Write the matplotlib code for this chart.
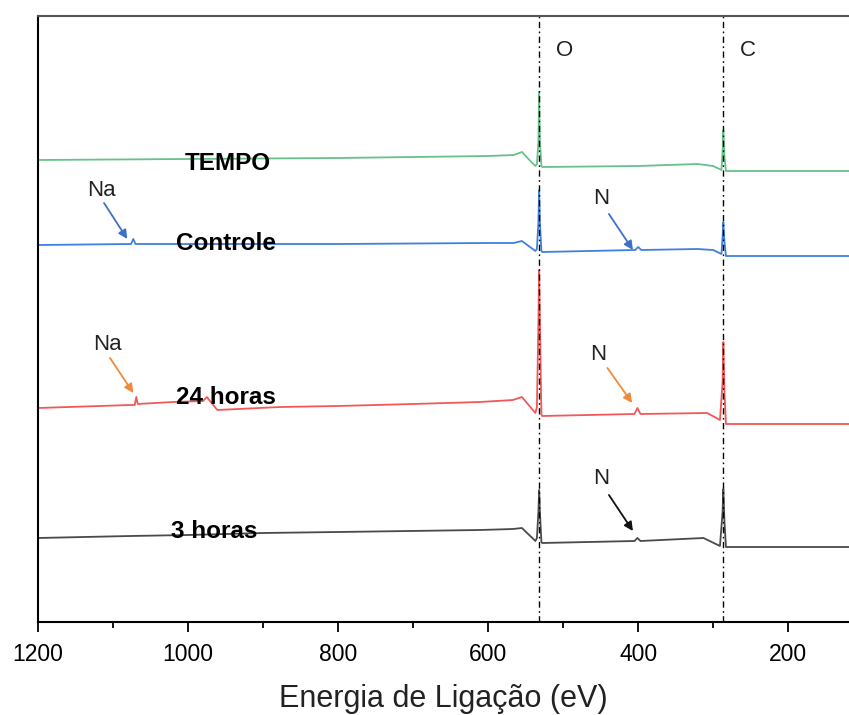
import matplotlib.pyplot as plt

# XPS survey spectra (stacked, arbitrary units)
plt.rcParams['font.family'] = ['Liberation Sans', 'DejaVu Sans']

# binding energies (eV) and stacked intensities
tempo_e = [1200, 1000, 800, 600, 566, 555, 545, 537, 535, 533, 532, 531, 529, 528,
           400, 321, 300, 289, 287.5, 286.5, 285, 283, 119]
tempo_i = [462, 463, 464, 466, 467, 470, 462, 456, 458, 480, 530, 480, 456, 455,
           456, 458, 456, 452, 470, 492, 465, 451, 451]

controle_e = [1200, 1076, 1073, 1070, 1000, 800, 600, 566, 555, 537, 535, 533, 532, 531,
              529, 528, 404, 400, 396, 321, 300, 289, 287.5, 286.5, 285, 283, 119]
controle_i = [377, 378, 383, 378, 378, 378, 379, 379, 381, 371, 373, 400, 432, 400,
              371, 370, 372, 375, 372, 373, 372, 368, 385, 400, 380, 366, 366]

h24_e = [1200, 1077, 1071, 1069, 1067, 1020, 980, 975, 961, 877, 800, 700, 611, 567,
         555, 537, 535, 533, 532, 531, 529, 528, 405, 401, 397, 308, 291, 287.5, 286.5,
         285, 283, 119]
h24_i = [214, 217, 217, 225, 218, 220, 221, 225, 212, 215, 216, 218, 220, 222,
         225, 209, 215, 300, 352, 300, 208, 206, 208, 214, 208, 209, 202, 240, 280,
         230, 198, 198]

h3_e = [1200, 1077, 1000, 900, 800, 611, 567, 555, 537, 535, 533, 532, 531, 529, 528,
        405, 401, 397, 313, 291, 287.5, 286.5, 285, 283, 119]
h3_i = [84, 86, 87, 89, 90, 92, 93, 94, 81, 84, 110, 132, 110, 80, 79,
        81, 84, 81, 84, 76, 110, 133, 100, 75, 75]

series = [('TEMPO', tempo_e, tempo_i, '#66c28a'),
          ('Controle', controle_e, controle_i, '#3f80de'),
          ('24 horas', h24_e, h24_i, '#f25858'),
          ('3 horas', h3_e, h3_i, '#4a4a4a')]

# label positions (eV, intensity)
label_e = [1004, 1016, 1016, 1023]
label_i = [459, 379, 224, 91]

peak_lines = [532, 286.5]
peak_names = ['O', 'C']

# annotations: text, text pos, arrow start, arrow tip, colour
notes = [('Na', (1115, 432), (1112, 419), (1081, 383), '#3f70c8'),
         ('N', (449, 424), (439, 408), (407, 372), '#3f70c8'),
         ('Na', (1108, 277), (1104, 264), (1073, 229), '#f08a3a'),
         ('N', (453, 267), (441, 254), (408, 219), '#f08a3a'),
         ('N', (449, 143), (439, 127), (407, 91), '#111111')]

fig = plt.figure(figsize=(8.49, 7.15), dpi=100)
ax = fig.add_axes([38 / 849, 93 / 715, 811 / 849, 606 / 715])

for name, e, i, c in series:
    ax.plot(e, i, color=c, lw=1.3)

for name, e, i in zip([s[0] for s in series], label_e, label_i):
    ax.text(e, i, name, fontsize=17.5, fontweight='bold', ha='left', va='center')

for x, n in zip(peak_lines, peak_names):
    ax.axvline(x, color='black', lw=1.0, dashes=(4.5, 2.5, 1.2, 2.5))
    ax.text(x - 22, 571, n, fontsize=16, ha='left', va='center', color='#222')

for txt, tpos, start, tip, c in notes:
    ax.text(tpos[0], tpos[1], txt, fontsize=16, ha='center', va='center', color='#222')
    ax.annotate('', xy=tip, xytext=start,
                arrowprops=dict(arrowstyle='-|>', color=c, lw=1.3, mutation_scale=13,
                                shrinkA=0, shrinkB=0))

ax.set_xlim(1200, 119)
ax.set_ylim(0, 606)
ax.set_xticks([1200, 1000, 800, 600, 400, 200])
ax.set_xticks(range(1100, 100, -200), minor=True)
ax.set_yticks([])
ax.tick_params(axis='x', which='major', length=7, width=1.3, labelsize=16.5, pad=8)
ax.tick_params(axis='x', which='minor', length=4, width=1.3)
ax.spines['right'].set_visible(False)
ax.spines['left'].set_linewidth(1.5)
ax.spines['bottom'].set_linewidth(1.5)
ax.spines['top'].set_linewidth(1.5)
ax.spines['top'].set_color('#555')
ax.set_xlabel('Energia de Ligação (eV)', fontsize=22, color='#222', labelpad=13)

fig.savefig('out.png', dpi=100)
